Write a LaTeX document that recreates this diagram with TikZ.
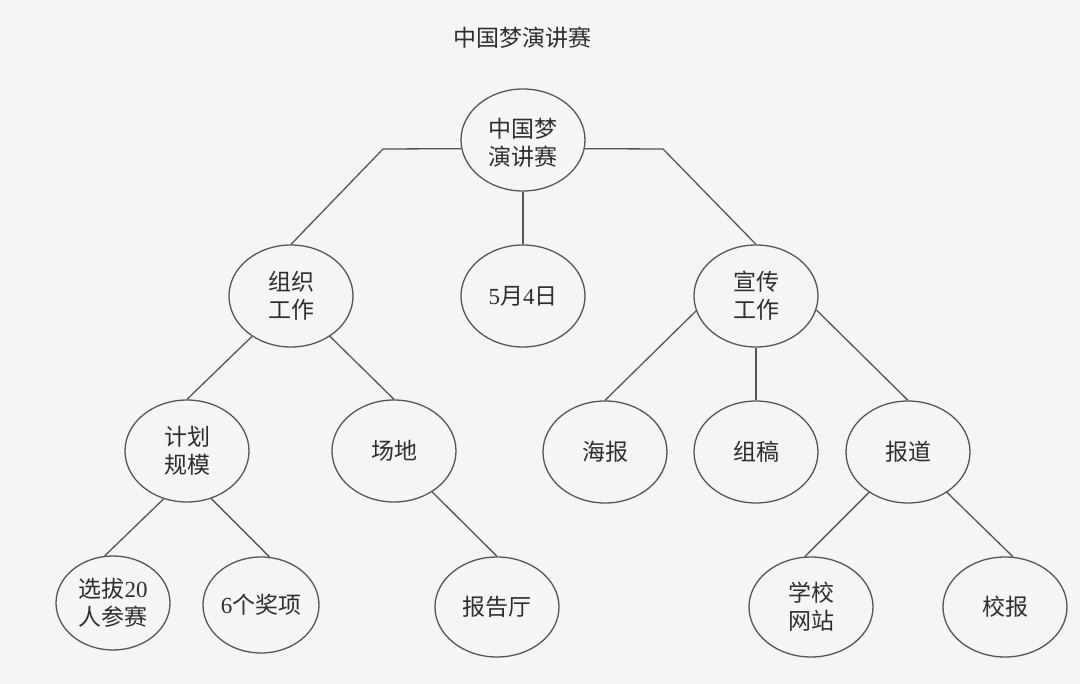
\documentclass[tikz,border=0pt]{standalone}
\usepackage{fontspec}
\setmainfont{Noto Sans CJK SC}
\newfontfamily\numf{Liberation Serif}
\usetikzlibrary{shapes.geometric}
\definecolor{bg}{HTML}{F5F5F5}
\definecolor{ln}{HTML}{555555}
\definecolor{tx}{HTML}{2E2E2E}
\begin{document}
\begin{tikzpicture}[x=1pt,y=-1pt,
  bub/.style={ellipse, draw=ln, line width=1.3pt, fill=bg, minimum width=124pt, minimum height=102pt, inner sep=0pt},
  lab/.style={text=tx, font=\fontsize{23}{28}\selectfont, align=center, inner sep=0pt},
  conn/.style={draw=ln, line width=1.3pt}]
\fill[bg] (0,0) rectangle (1080,684);
\useasboundingbox (0,0) rectangle (1080,684);

\node[lab] (title) at (522,38) {中国梦演讲赛};

\node[bub] (root) at (523,140) {};
\node[bub] (wl) at (523,296) {};
\node[bub] (zz) at (291,296) {};
\node[bub] (xc) at (756,296) {};
\node[bub] (jh) at (187,451) {};
\node[bub] (cd) at (394,451) {};
\node[bub] (hb) at (605,452) {};
\node[bub] (zg) at (756,452) {};
\node[bub] (bd) at (908,452) {};
\node[bub, minimum width=114pt, minimum height=94pt] (xb) at (113,603) {};
\node[bub, minimum width=116pt, minimum height=96pt] (jx) at (261,605) {};
\node[bub, minimum height=100pt] (bgt) at (497,607) {};
\node[bub, minimum height=100pt] (xw) at (811,607) {};
\node[bub, minimum height=100pt] (xbao) at (1005,607) {};

\node[lab] (t-root) at ([yshift=-3pt]root.center) {中国梦\\演讲赛};
\node[lab] (t-wl) at (wl) {{\numf 5}月{\numf 4}日};
\node[lab] (t-zz) at (zz) {组织\\工作};
\node[lab] (t-xc) at (xc) {宣传\\工作};
\node[lab] (t-jh) at (jh) {计划\\规模};
\node[lab] (t-cd) at (cd) {场地};
\node[lab] (t-hb) at (hb) {海报};
\node[lab] (t-zg) at (zg) {组稿};
\node[lab] (t-bd) at (bd) {报道};
\node[lab] (t-xb) at (xb) {选拔{\numf 20}\\人参赛};
\node[lab] (t-jx) at (jx) {{\numf 6}个奖项};
\node[lab] (t-bgt) at (bgt) {报告厅};
\node[lab] (t-xw) at (xw) {学校\\网站};
\node[lab] (t-xbao) at (xbao) {校报};

\coordinate (kl) at (383,149);
\coordinate (kr) at (663,149);
\draw[conn] (root.188) -- (kl) -- (zz.north);
\draw[conn] (root.352) -- (kr) -- (xc.north);
\draw[conn] (root.south) -- (wl.north);
\draw[conn] (zz.226) -- (jh.north);
\draw[conn] (zz.314) -- (cd.north);
\draw[conn] (xc.194) -- (hb.north);
\draw[conn] (xc.south) -- (zg.north);
\draw[conn] (xc.347) -- (bd.north);
\draw[conn] (jh.244) -- (xb.100);
\draw[conn] (jh.297) -- (jx.80);
\draw[conn] (cd.313) -- (bgt.north);
\draw[conn] (bd.226) -- (xw.97);
\draw[conn] (bd.314) -- (xbao.81);
\end{tikzpicture}
\end{document}
